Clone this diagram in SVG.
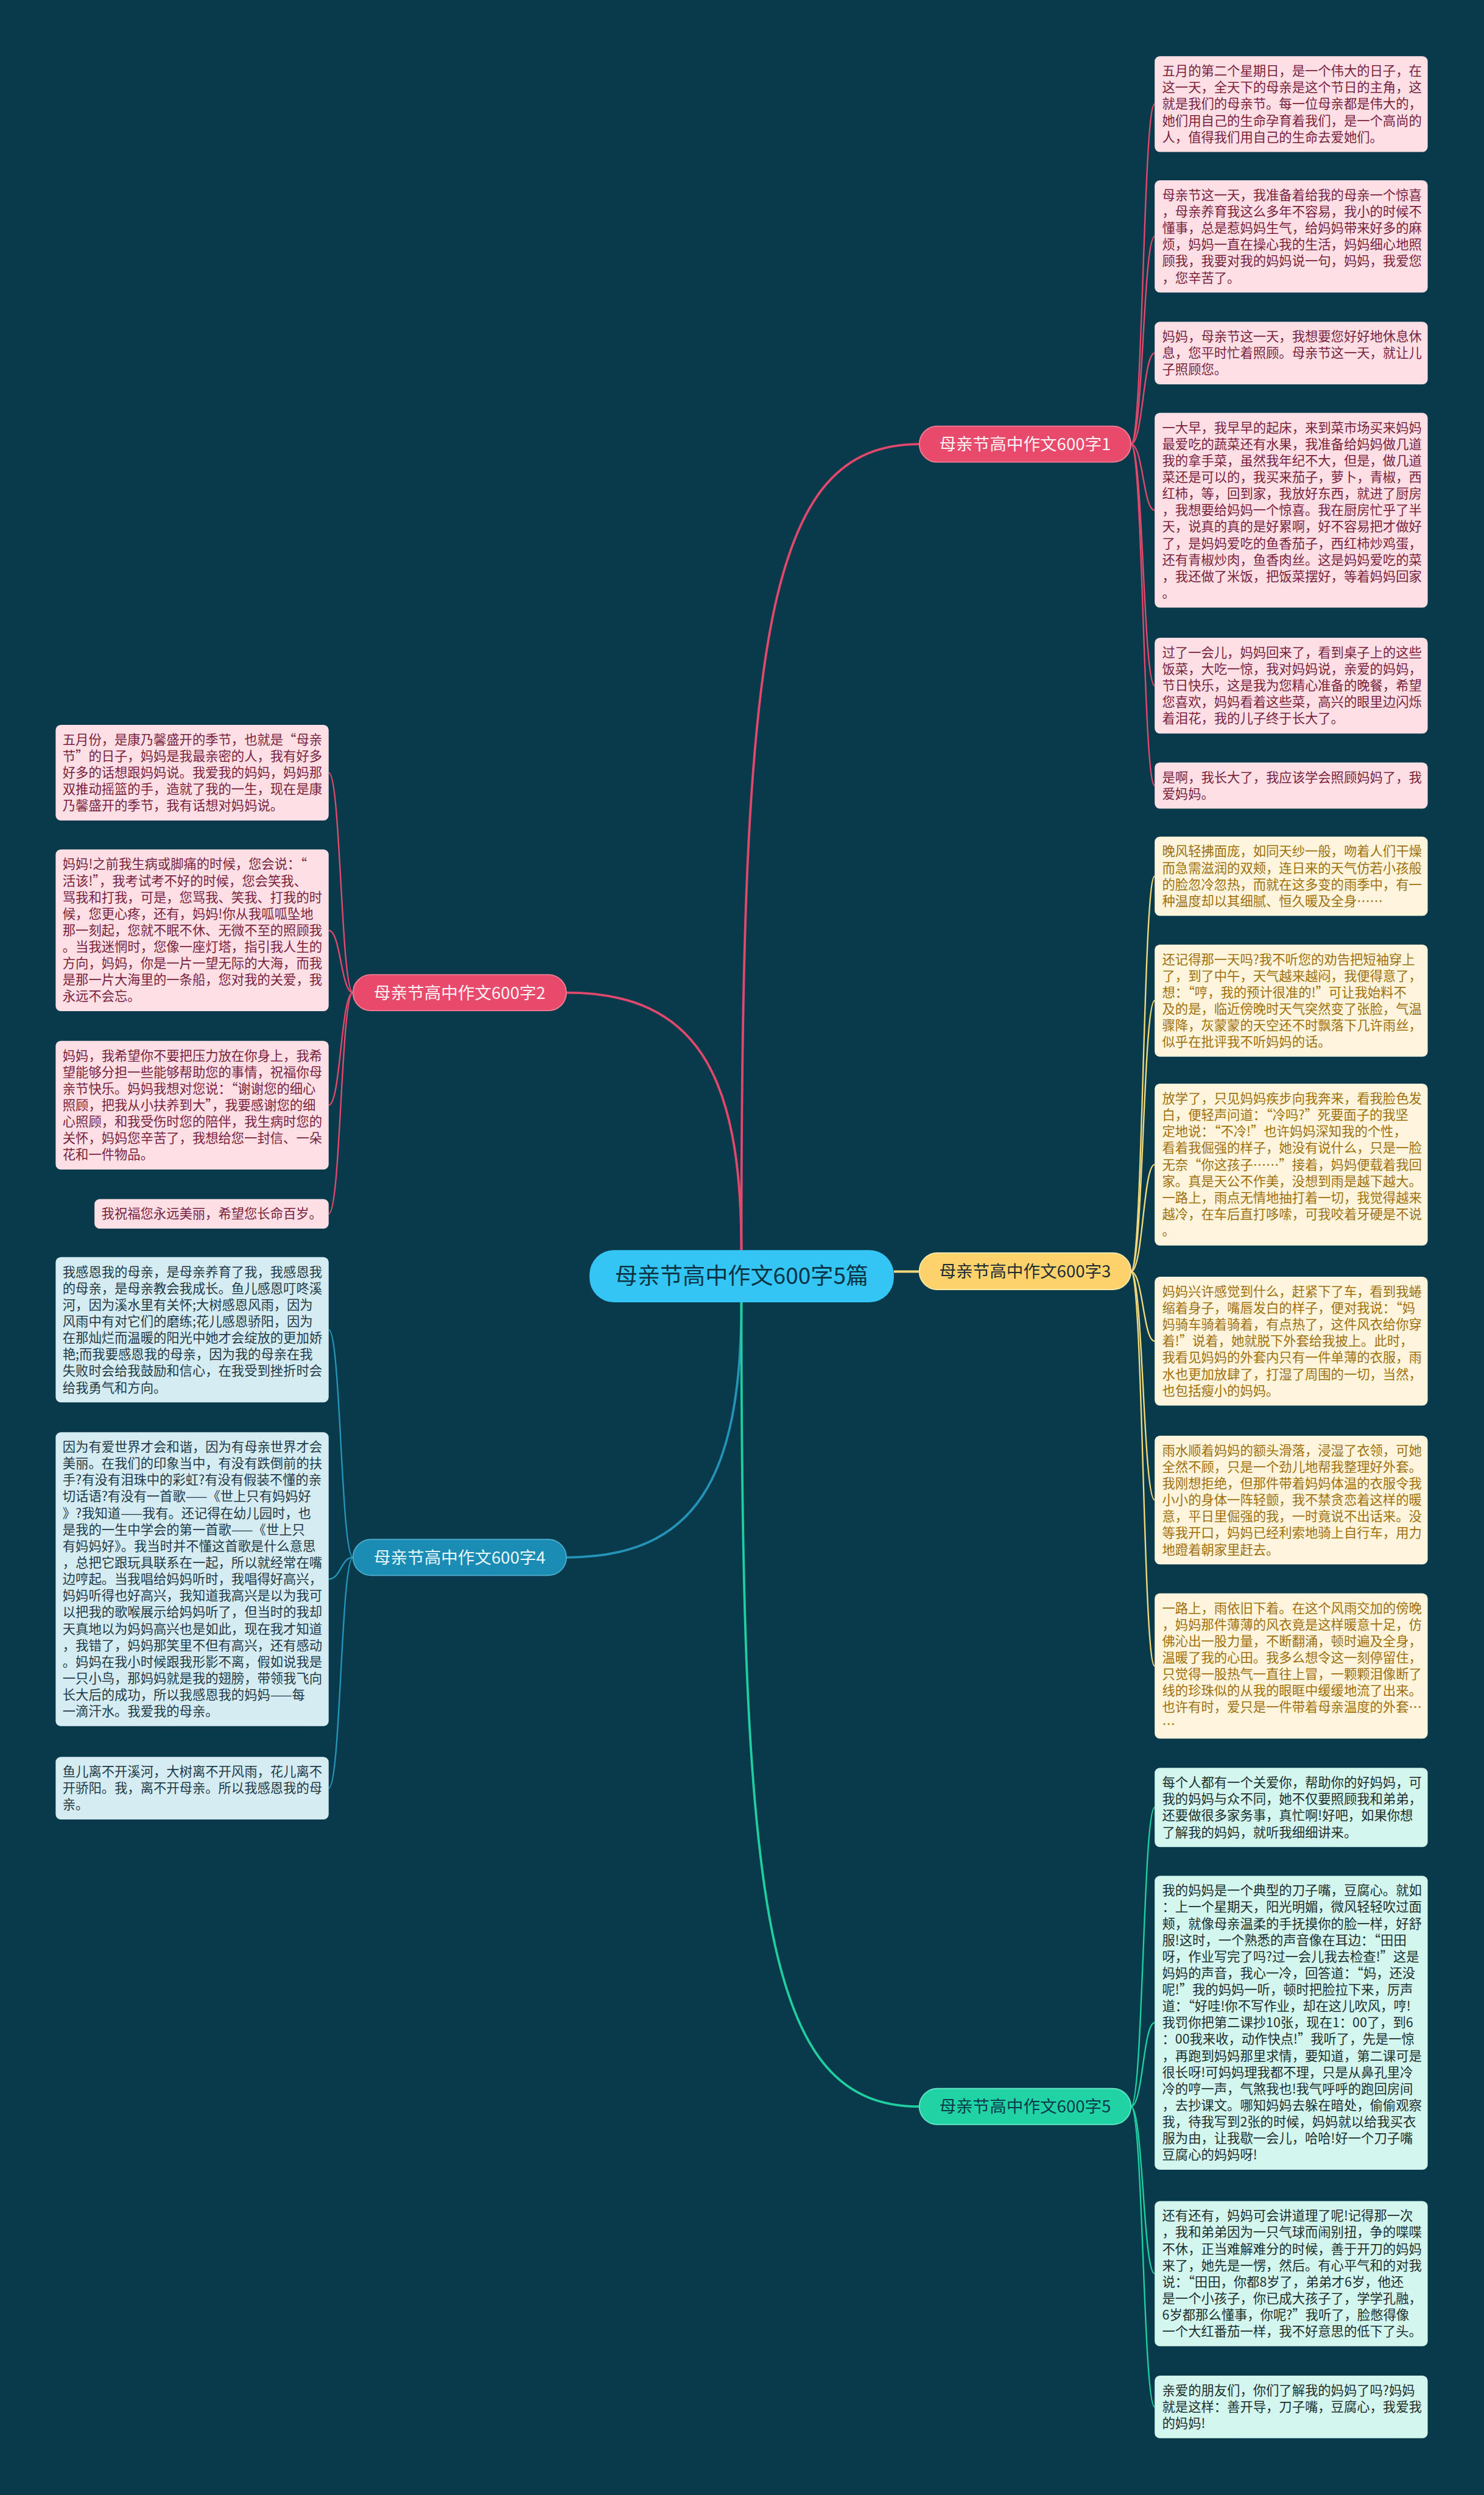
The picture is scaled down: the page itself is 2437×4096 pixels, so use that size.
<svg xmlns="http://www.w3.org/2000/svg" width="2437" height="4096" viewBox="0 0 2437 4096">
<style>
text{font-family:"Noto Sans CJK SC","Noto Sans",sans-serif;}
.bx{font-size:22.4px;}
.pk rect{fill:#fddfe5;} .pk text{fill:#7a1f3d;}
.yl rect{fill:#fff5dc;} .yl text{fill:#a0700e;}
.bl rect{fill:#d5ecf3;} .bl text{fill:#1f3a47;}
.gr rect{fill:#d3f6ee;} .gr text{fill:#1c2f2f;}
.lp{stroke:#e2486c;fill:none;} .ly{stroke:#f2d87a;fill:none;} .lb{stroke:#2593b8;fill:none;} .lg{stroke:#1fcfa0;fill:none;}
.main{stroke-width:4;} .sub{stroke-width:2.5;}
.br{font-size:29px;text-anchor:middle;}
</style>
<rect x="0" y="0" width="2437" height="4096" fill="#083a4b"/>
<g transform="scale(0.9519)">
<g id="connectors">
<path class="lp main" d="M1279,2156 C1279,1100 1320,766 1586,766"/>
<path class="lp main" d="M1279,2156 C1279,1850 1200,1712 977,1712"/>
<path class="ly main" d="M1542,2193 L1586,2193"/>
<path class="lb main" d="M1279,2246 C1279,2550 1200,2686 977,2686"/>
<path class="lg main" d="M1279,2246 C1279,3300 1320,3633 1586,3633"/>
<path class="lp sub" d="M1951,766 C1972,766 1972,179.5 1992,179.5"/>
<path class="lp sub" d="M1951,766 C1972,766 1972,407.75 1992,407.75"/>
<path class="lp sub" d="M1951,766 C1972,766 1972,609 1992,609"/>
<path class="lp sub" d="M1951,766 C1972,766 1972,880 1992,880"/>
<path class="lp sub" d="M1951,766 C1972,766 1972,1182.5 1992,1182.5"/>
<path class="lp sub" d="M1951,766 C1972,766 1972,1354.75 1992,1354.75"/>
<path class="lp sub" d="M609,1712 C588,1712 588,1332.5 567,1332.5"/>
<path class="lp sub" d="M609,1712 C588,1712 588,1604.5 567,1604.5"/>
<path class="lp sub" d="M609,1712 C588,1712 588,1906 567,1906"/>
<path class="lp sub" d="M609,1712 C588,1712 588,2093.5 567,2093.5"/>
<path class="ly sub" d="M1951,2193 C1972,2193 1972,1511.25 1992,1511.25"/>
<path class="ly sub" d="M1951,2193 C1972,2193 1972,1725.75 1992,1725.75"/>
<path class="ly sub" d="M1951,2193 C1972,2193 1972,2008.5 1992,2008.5"/>
<path class="ly sub" d="M1951,2193 C1972,2193 1972,2313 1992,2313"/>
<path class="ly sub" d="M1951,2193 C1972,2193 1972,2587 1992,2587"/>
<path class="ly sub" d="M1951,2193 C1972,2193 1972,2873.25 1992,2873.25"/>
<path class="lb sub" d="M609,2686 C588,2686 588,2293.25 567,2293.25"/>
<path class="lb sub" d="M609,2686 C588,2686 588,2723.5 567,2723.5"/>
<path class="lb sub" d="M609,2686 C588,2686 588,3084 567,3084"/>
<path class="lg sub" d="M1951,3633 C1972,3633 1972,3117.25 1992,3117.25"/>
<path class="lg sub" d="M1951,3633 C1972,3633 1972,3488.5 1992,3488.5"/>
<path class="lg sub" d="M1951,3633 C1972,3633 1972,3921.25 1992,3921.25"/>
<path class="lg sub" d="M1951,3633 C1972,3633 1972,4151 1992,4151"/>
</g>

<g id="root">
<rect x="1017" y="2156" width="525" height="90" rx="42" fill="#33c5f3"/>
<text x="1279.5" y="2215" font-size="39" text-anchor="middle" fill="#0b3344">母亲节高中作文600字5篇</text>
</g>
<g id="b1">
<rect x="1586" y="735" width="365" height="62" rx="31" fill="#e84a6c" stroke="#f27a92" stroke-width="2"/>
<text class="br" x="1768.5" y="776.5" fill="#fff2f5">母亲节高中作文600字1</text>
</g>
<g id="b2">
<rect x="609" y="1681" width="368" height="62" rx="31" fill="#e84a6c" stroke="#f27a92" stroke-width="2"/>
<text class="br" x="793" y="1722.5" fill="#fff2f5">母亲节高中作文600字2</text>
</g>
<g id="b3">
<rect x="1586" y="2161" width="365" height="63" rx="31" fill="#fdd26b" stroke="#fbe7a6" stroke-width="2"/>
<text class="br" x="1768.5" y="2203" fill="#1d2b36">母亲节高中作文600字3</text>
</g>
<g id="b4">
<rect x="609" y="2655" width="368" height="62" rx="31" fill="#1b8db4" stroke="#4aa9c9" stroke-width="2"/>
<text class="br" x="793" y="2696.5" fill="#e8f7fc">母亲节高中作文600字4</text>
</g>
<g id="b5">
<rect x="1586" y="3602" width="365" height="62" rx="31" fill="#20d3a4" stroke="#62e2c0" stroke-width="2"/>
<text class="br" x="1768.5" y="3643.5" fill="#0b3a4b">母亲节高中作文600字5</text>
</g>

<g id="r1" class="pk"><rect x="1992" y="97" width="471" height="165" rx="9"/>
<text class="bx" y="130.5"><tspan x="2005">五月的第二个星期日，是一个伟大的日子，在</tspan><tspan x="2005" dy="28.5">这一天，全天下的母亲是这个节日的主角，这</tspan><tspan x="2005" dy="28.5">就是我们的母亲节。每一位母亲都是伟大的，</tspan><tspan x="2005" dy="28.5">她们用自己的生命孕育着我们，是一个高尚的</tspan><tspan x="2005" dy="28.5">人，值得我们用自己的生命去爱她们。</tspan></text></g>
<g id="r2" class="pk"><rect x="1992" y="311" width="471" height="193.5" rx="9"/>
<text class="bx" y="344.5"><tspan x="2005">母亲节这一天，我准备着给我的母亲一个惊喜</tspan><tspan x="2005" dy="28.5">，母亲养育我这么多年不容易，我小的时候不</tspan><tspan x="2005" dy="28.5">懂事，总是惹妈妈生气，给妈妈带来好多的麻</tspan><tspan x="2005" dy="28.5">烦，妈妈一直在操心我的生活，妈妈细心地照</tspan><tspan x="2005" dy="28.5">顾我，我要对我的妈妈说一句，妈妈，我爱您</tspan><tspan x="2005" dy="28.5">，您辛苦了。</tspan></text></g>
<g id="r3" class="pk"><rect x="1992" y="555" width="471" height="108" rx="9"/>
<text class="bx" y="588.5"><tspan x="2005">妈妈，母亲节这一天，我想要您好好地休息休</tspan><tspan x="2005" dy="28.5">息，您平时忙着照顾。母亲节这一天，就让儿</tspan><tspan x="2005" dy="28.5">子照顾您。</tspan></text></g>
<g id="r4" class="pk"><rect x="1992" y="712" width="471" height="336" rx="9"/>
<text class="bx" y="745.5"><tspan x="2005">一大早，我早早的起床，来到菜市场买来妈妈</tspan><tspan x="2005" dy="28.5">最爱吃的蔬菜还有水果，我准备给妈妈做几道</tspan><tspan x="2005" dy="28.5">我的拿手菜，虽然我年纪不大，但是，做几道</tspan><tspan x="2005" dy="28.5">菜还是可以的，我买来茄子，萝卜，青椒，西</tspan><tspan x="2005" dy="28.5">红柿，等，回到家，我放好东西，就进了厨房</tspan><tspan x="2005" dy="28.5">，我想要给妈妈一个惊喜。我在厨房忙乎了半</tspan><tspan x="2005" dy="28.5">天，说真的真的是好累啊，好不容易把才做好</tspan><tspan x="2005" dy="28.5">了，是妈妈爱吃的鱼香茄子，西红柿炒鸡蛋，</tspan><tspan x="2005" dy="28.5">还有青椒炒肉，鱼香肉丝。这是妈妈爱吃的菜</tspan><tspan x="2005" dy="28.5">，我还做了米饭，把饭菜摆好，等着妈妈回家</tspan><tspan x="2005" dy="28.5">。</tspan></text></g>
<g id="r5" class="pk"><rect x="1992" y="1100" width="471" height="165" rx="9"/>
<text class="bx" y="1133.5"><tspan x="2005">过了一会儿，妈妈回来了，看到桌子上的这些</tspan><tspan x="2005" dy="28.5">饭菜，大吃一惊，我对妈妈说，亲爱的妈妈，</tspan><tspan x="2005" dy="28.5">节日快乐，这是我为您精心准备的晚餐，希望</tspan><tspan x="2005" dy="28.5">您喜欢，妈妈看着这些菜，高兴的眼里边闪烁</tspan><tspan x="2005" dy="28.5">着泪花，我的儿子终于长大了。</tspan></text></g>
<g id="r6" class="pk"><rect x="1992" y="1315" width="471" height="79.5" rx="9"/>
<text class="bx" y="1348.5"><tspan x="2005">是啊，我长大了，我应该学会照顾妈妈了，我</tspan><tspan x="2005" dy="28.5">爱妈妈。</tspan></text></g>

<g id="r7" class="yl"><rect x="1992" y="1443" width="471" height="136.5" rx="9"/>
<text class="bx" y="1476.5"><tspan x="2005">晚风轻拂面庞，如同天纱一般，吻着人们干燥</tspan><tspan x="2005" dy="28.5">而急需滋润的双颊，连日来的天气仿若小孩般</tspan><tspan x="2005" dy="28.5">的脸忽冷忽热，而就在这多变的雨季中，有一</tspan><tspan x="2005" dy="28.5">种温度却以其细腻、恒久暖及全身……</tspan></text></g>
<g id="r8" class="yl"><rect x="1992" y="1629" width="471" height="193.5" rx="9"/>
<text class="bx" y="1662.5"><tspan x="2005">还记得那一天吗?我不听您的劝告把短袖穿上</tspan><tspan x="2005" dy="28.5">了，到了中午，天气越来越闷，我便得意了，</tspan><tspan x="2005" dy="28.5">想：“哼，我的预计很准的!”可让我始料不</tspan><tspan x="2005" dy="28.5">及的是，临近傍晚时天气突然变了张脸，气温</tspan><tspan x="2005" dy="28.5">骤降，灰蒙蒙的天空还不时飘落下几许雨丝，</tspan><tspan x="2005" dy="28.5">似乎在批评我不听妈妈的话。</tspan></text></g>
<g id="r9" class="yl"><rect x="1992" y="1869" width="471" height="279" rx="9"/>
<text class="bx" y="1902.5"><tspan x="2005">放学了，只见妈妈疾步向我奔来，看我脸色发</tspan><tspan x="2005" dy="28.5">白，便轻声问道：“冷吗?”死要面子的我坚</tspan><tspan x="2005" dy="28.5">定地说：“不冷!”也许妈妈深知我的个性，</tspan><tspan x="2005" dy="28.5">看着我倔强的样子，她没有说什么，只是一脸</tspan><tspan x="2005" dy="28.5">无奈“你这孩子……”接着，妈妈便载着我回</tspan><tspan x="2005" dy="28.5">家。真是天公不作美，没想到雨是越下越大。</tspan><tspan x="2005" dy="28.5">一路上，雨点无情地抽打着一切，我觉得越来</tspan><tspan x="2005" dy="28.5">越冷，在车后直打哆嗦，可我咬着牙硬是不说</tspan><tspan x="2005" dy="28.5">。</tspan></text></g>
<g id="r10" class="yl"><rect x="1992" y="2202" width="471" height="222" rx="9"/>
<text class="bx" y="2235.5"><tspan x="2005">妈妈兴许感觉到什么，赶紧下了车，看到我蜷</tspan><tspan x="2005" dy="28.5">缩着身子，嘴唇发白的样子，便对我说：“妈</tspan><tspan x="2005" dy="28.5">妈骑车骑着骑着，有点热了，这件风衣给你穿</tspan><tspan x="2005" dy="28.5">着!”说着，她就脱下外套给我披上。此时，</tspan><tspan x="2005" dy="28.5">我看见妈妈的外套内只有一件单薄的衣服，雨</tspan><tspan x="2005" dy="28.5">水也更加放肆了，打湿了周围的一切，当然，</tspan><tspan x="2005" dy="28.5">也包括瘦小的妈妈。</tspan></text></g>
<g id="r11" class="yl"><rect x="1992" y="2476" width="471" height="222" rx="9"/>
<text class="bx" y="2509.5"><tspan x="2005">雨水顺着妈妈的额头滑落，浸湿了衣领，可她</tspan><tspan x="2005" dy="28.5">全然不顾，只是一个劲儿地帮我整理好外套。</tspan><tspan x="2005" dy="28.5">我刚想拒绝，但那件带着妈妈体温的衣服令我</tspan><tspan x="2005" dy="28.5">小小的身体一阵轻颤，我不禁贪恋着这样的暖</tspan><tspan x="2005" dy="28.5">意，平日里倔强的我，一时竟说不出话来。没</tspan><tspan x="2005" dy="28.5">等我开口，妈妈已经利索地骑上自行车，用力</tspan><tspan x="2005" dy="28.5">地蹬着朝家里赶去。</tspan></text></g>
<g id="r12" class="yl"><rect x="1992" y="2748" width="471" height="250.5" rx="9"/>
<text class="bx" y="2781.5"><tspan x="2005">一路上，雨依旧下着。在这个风雨交加的傍晚</tspan><tspan x="2005" dy="28.5">，妈妈那件薄薄的风衣竟是这样暖意十足，仿</tspan><tspan x="2005" dy="28.5">佛沁出一股力量，不断翻涌，顿时遍及全身，</tspan><tspan x="2005" dy="28.5">温暖了我的心田。我多么想令这一刻停留住，</tspan><tspan x="2005" dy="28.5">只觉得一股热气一直往上冒，一颗颗泪像断了</tspan><tspan x="2005" dy="28.5">线的珍珠似的从我的眼眶中缓缓地流了出来。</tspan><tspan x="2005" dy="28.5">也许有时，爱只是一件带着母亲温度的外套…</tspan><tspan x="2005" dy="28.5">…</tspan></text></g>

<g id="r13" class="gr"><rect x="1992" y="3049" width="471" height="136.5" rx="9"/>
<text class="bx" y="3082.5"><tspan x="2005">每个人都有一个关爱你，帮助你的好妈妈，可</tspan><tspan x="2005" dy="28.5">我的妈妈与众不同，她不仅要照顾我和弟弟，</tspan><tspan x="2005" dy="28.5">还要做很多家务事，真忙啊!好吧，如果你想</tspan><tspan x="2005" dy="28.5">了解我的妈妈，就听我细细讲来。</tspan></text></g>
<g id="r14" class="gr"><rect x="1992" y="3235" width="471" height="507" rx="9"/>
<text class="bx" y="3268.5"><tspan x="2005">我的妈妈是一个典型的刀子嘴，豆腐心。就如</tspan><tspan x="2005" dy="28.5">：上一个星期天，阳光明媚，微风轻轻吹过面</tspan><tspan x="2005" dy="28.5">颊，就像母亲温柔的手抚摸你的脸一样，好舒</tspan><tspan x="2005" dy="28.5">服!这时，一个熟悉的声音像在耳边：“田田</tspan><tspan x="2005" dy="28.5">呀，作业写完了吗?过一会儿我去检查!”这是</tspan><tspan x="2005" dy="28.5">妈妈的声音，我心一冷，回答道：“妈，还没</tspan><tspan x="2005" dy="28.5">呢!”我的妈妈一听，顿时把脸拉下来，厉声</tspan><tspan x="2005" dy="28.5">道：“好哇!你不写作业，却在这儿吹风，哼!</tspan><tspan x="2005" dy="28.5">我罚你把第二课抄10张，现在1：00了，到6</tspan><tspan x="2005" dy="28.5">：00我来收，动作快点!”我听了，先是一惊</tspan><tspan x="2005" dy="28.5">，再跑到妈妈那里求情，要知道，第二课可是</tspan><tspan x="2005" dy="28.5">很长呀!可妈妈理我都不理，只是从鼻孔里冷</tspan><tspan x="2005" dy="28.5">冷的哼一声，气煞我也!我气呼呼的跑回房间</tspan><tspan x="2005" dy="28.5">，去抄课文。哪知妈妈去躲在暗处，偷偷观察</tspan><tspan x="2005" dy="28.5">我，待我写到2张的时候，妈妈就以给我买衣</tspan><tspan x="2005" dy="28.5">服为由，让我歇一会儿，哈哈!好一个刀子嘴</tspan><tspan x="2005" dy="28.5">豆腐心的妈妈呀!</tspan></text></g>
<g id="r15" class="gr"><rect x="1992" y="3796" width="471" height="250.5" rx="9"/>
<text class="bx" y="3829.5"><tspan x="2005">还有还有，妈妈可会讲道理了呢!记得那一次</tspan><tspan x="2005" dy="28.5">，我和弟弟因为一只气球而闹别扭，争的喋喋</tspan><tspan x="2005" dy="28.5">不休，正当难解难分的时候，善于开刀的妈妈</tspan><tspan x="2005" dy="28.5">来了，她先是一愣，然后。有心平气和的对我</tspan><tspan x="2005" dy="28.5">说：“田田，你都8岁了，弟弟才6岁，他还</tspan><tspan x="2005" dy="28.5">是一个小孩子，你已成大孩子了，学学孔融，</tspan><tspan x="2005" dy="28.5">6岁都那么懂事，你呢?”我听了，脸憋得像</tspan><tspan x="2005" dy="28.5">一个大红番茄一样，我不好意思的低下了头。</tspan></text></g>
<g id="r16" class="gr"><rect x="1992" y="4097" width="471" height="108" rx="9"/>
<text class="bx" y="4130.5"><tspan x="2005">亲爱的朋友们，你们了解我的妈妈了吗?妈妈</tspan><tspan x="2005" dy="28.5">就是这样：善开导，刀子嘴，豆腐心，我爱我</tspan><tspan x="2005" dy="28.5">的妈妈!</tspan></text></g>

<g id="l1" class="pk"><rect x="96" y="1250" width="471" height="165" rx="9"/>
<text class="bx" y="1283.5"><tspan x="108">五月份，是康乃馨盛开的季节，也就是“母亲</tspan><tspan x="108" dy="28.5">节”的日子，妈妈是我最亲密的人，我有好多</tspan><tspan x="108" dy="28.5">好多的话想跟妈妈说。我爱我的妈妈，妈妈那</tspan><tspan x="108" dy="28.5">双推动摇篮的手，造就了我的一生，现在是康</tspan><tspan x="108" dy="28.5">乃馨盛开的季节，我有话想对妈妈说。</tspan></text></g>
<g id="l2" class="pk"><rect x="96" y="1465" width="471" height="279" rx="9"/>
<text class="bx" y="1498.5"><tspan x="108">妈妈!之前我生病或脚痛的时候，您会说：“</tspan><tspan x="108" dy="28.5">活该!”，我考试考不好的时候，您会笑我、</tspan><tspan x="108" dy="28.5">骂我和打我，可是，您骂我、笑我、打我的时</tspan><tspan x="108" dy="28.5">候，您更心疼，还有，妈妈!你从我呱呱坠地</tspan><tspan x="108" dy="28.5">那一刻起，您就不眠不休、无微不至的照顾我</tspan><tspan x="108" dy="28.5">。当我迷惘时，您像一座灯塔，指引我人生的</tspan><tspan x="108" dy="28.5">方向，妈妈，你是一片一望无际的大海，而我</tspan><tspan x="108" dy="28.5">是那一片大海里的一条船，您对我的关爱，我</tspan><tspan x="108" dy="28.5">永远不会忘。</tspan></text></g>
<g id="l3" class="pk"><rect x="96" y="1795" width="471" height="222" rx="9"/>
<text class="bx" y="1828.5"><tspan x="108">妈妈，我希望你不要把压力放在你身上，我希</tspan><tspan x="108" dy="28.5">望能够分担一些能够帮助您的事情，祝福你母</tspan><tspan x="108" dy="28.5">亲节快乐。妈妈我想对您说：“谢谢您的细心</tspan><tspan x="108" dy="28.5">照顾，把我从小扶养到大”，我要感谢您的细</tspan><tspan x="108" dy="28.5">心照顾，和我受伤时您的陪伴，我生病时您的</tspan><tspan x="108" dy="28.5">关怀，妈妈您辛苦了，我想给您一封信、一朵</tspan><tspan x="108" dy="28.5">花和一件物品。</tspan></text></g>
<g id="l4" class="pk"><rect x="163" y="2068" width="404" height="51" rx="9"/>
<text class="bx" y="2101.5"><tspan x="175">我祝福您永远美丽，希望您长命百岁。</tspan></text></g>

<g id="l5" class="bl"><rect x="96" y="2168" width="471" height="250.5" rx="9"/>
<text class="bx" y="2201.5"><tspan x="108">我感恩我的母亲，是母亲养育了我，我感恩我</tspan><tspan x="108" dy="28.5">的母亲，是母亲教会我成长。鱼儿感恩叮咚溪</tspan><tspan x="108" dy="28.5">河，因为溪水里有关怀;大树感恩风雨，因为</tspan><tspan x="108" dy="28.5">风雨中有对它们的磨练;花儿感恩骄阳，因为</tspan><tspan x="108" dy="28.5">在那灿烂而温暖的阳光中她才会绽放的更加娇</tspan><tspan x="108" dy="28.5">艳;而我要感恩我的母亲，因为我的母亲在我</tspan><tspan x="108" dy="28.5">失败时会给我鼓励和信心，在我受到挫折时会</tspan><tspan x="108" dy="28.5">给我勇气和方向。</tspan></text></g>
<g id="l6" class="bl"><rect x="96" y="2470" width="471" height="507" rx="9"/>
<text class="bx" y="2503.5"><tspan x="108">因为有爱世界才会和谐，因为有母亲世界才会</tspan><tspan x="108" dy="28.5">美丽。在我们的印象当中，有没有跌倒前的扶</tspan><tspan x="108" dy="28.5">手?有没有泪珠中的彩虹?有没有假装不懂的亲</tspan><tspan x="108" dy="28.5">切话语?有没有一首歌——《世上只有妈妈好</tspan><tspan x="108" dy="28.5">》?我知道——我有。还记得在幼儿园时，也</tspan><tspan x="108" dy="28.5">是我的一生中学会的第一首歌——《世上只</tspan><tspan x="108" dy="28.5">有妈妈好》。我当时并不懂这首歌是什么意思</tspan><tspan x="108" dy="28.5">，总把它跟玩具联系在一起，所以就经常在嘴</tspan><tspan x="108" dy="28.5">边哼起。当我唱给妈妈听时，我唱得好高兴，</tspan><tspan x="108" dy="28.5">妈妈听得也好高兴，我知道我高兴是以为我可</tspan><tspan x="108" dy="28.5">以把我的歌喉展示给妈妈听了，但当时的我却</tspan><tspan x="108" dy="28.5">天真地以为妈妈高兴也是如此，现在我才知道</tspan><tspan x="108" dy="28.5">，我错了，妈妈那笑里不但有高兴，还有感动</tspan><tspan x="108" dy="28.5">。妈妈在我小时候跟我形影不离，假如说我是</tspan><tspan x="108" dy="28.5">一只小鸟，那妈妈就是我的翅膀，带领我飞向</tspan><tspan x="108" dy="28.5">长大后的成功，所以我感恩我的妈妈——每</tspan><tspan x="108" dy="28.5">一滴汗水。我爱我的母亲。</tspan></text></g>
<g id="l7" class="bl"><rect x="96" y="3030" width="471" height="108" rx="9"/>
<text class="bx" y="3063.5"><tspan x="108">鱼儿离不开溪河，大树离不开风雨，花儿离不</tspan><tspan x="108" dy="28.5">开骄阳。我，离不开母亲。所以我感恩我的母</tspan><tspan x="108" dy="28.5">亲。</tspan></text></g>
</g>
</svg>
